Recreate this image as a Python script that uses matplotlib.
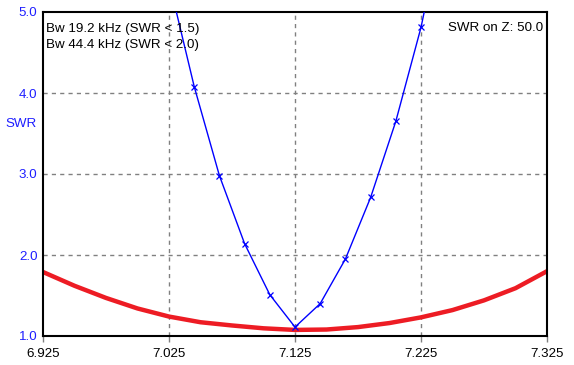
import matplotlib
matplotlib.use("Agg")
import matplotlib.pyplot as plt

plt.rcParams['font.family'] = ['Liberation Sans', 'DejaVu Sans']

# Measured SWR (blue, with markers)
freq_meas = [7.025, 7.045, 7.065, 7.085, 7.105, 7.125, 7.145, 7.165, 7.185, 7.205, 7.225, 7.245]
swr_meas = [5.38, 4.08, 2.98, 2.14, 1.51, 1.11, 1.40, 1.95, 2.71, 3.65, 4.81, 6.30]
marker_freq = [7.045, 7.065, 7.085, 7.105, 7.125, 7.145, 7.165, 7.185, 7.205, 7.225]
marker_swr = [4.08, 2.98, 2.14, 1.51, 1.11, 1.40, 1.95, 2.71, 3.65, 4.81]

# Reference SWR curve (red)
freq_ref = [6.925, 6.950, 6.975, 7.000, 7.025, 7.050, 7.075, 7.100, 7.125,
            7.150, 7.175, 7.200, 7.225, 7.250, 7.275, 7.300, 7.325]
swr_ref = [1.79, 1.62, 1.47, 1.34, 1.24, 1.17, 1.13, 1.095, 1.075,
           1.08, 1.11, 1.16, 1.23, 1.32, 1.44, 1.59, 1.80]

x_ticks = [6.925, 7.025, 7.125, 7.225, 7.325]
x_ticklabels = ["6.925", "7.025", "7.125", "7.225", "7.325"]
y_ticks = [1.0, 2.0, 3.0, 4.0, 5.0]
y_ticklabels = ["1.0", "2.0", "3.0", "4.0", "5.0"]

bw_lines = ["Bw 19.2 kHz (SWR < 1.5)", "Bw 44.4 kHz (SWR < 2.0)"]
z_text = "SWR on Z: 50.0"

W, H = 574, 365
FS = 9.6
fig = plt.figure(figsize=(W / 100, H / 100), dpi=100)
ax = fig.add_axes([43 / W, (H - 336) / H, 504 / W, 324 / H])

ax.set_xlim(6.925, 7.325)
ax.set_ylim(1.0, 5.0)

# grid
for xv in x_ticks[1:-1]:
    ax.axvline(xv, color='#808080', lw=1, ls=(0, (3, 3)), zorder=1)
for yv in y_ticks[1:-1]:
    ax.axhline(yv, color='#808080', lw=1, ls=(0, (3, 3)), zorder=1)

ax.plot(freq_ref, swr_ref, color='#ED1C24', lw=3.2, zorder=2, solid_capstyle='butt',
        solid_joinstyle='round')
ax.plot(freq_meas, swr_meas, color='#0000FF', lw=1.0, zorder=3)
ax.plot(marker_freq, marker_swr, ls='none', marker='x', ms=5, mew=0.9, color='#0000FF', zorder=3)

ax.set_xticks(x_ticks)
ax.set_xticklabels(x_ticklabels, fontsize=FS, color='black')
ax.set_yticks(y_ticks)
ax.set_yticklabels(y_ticklabels, fontsize=FS, color='#1E1EFF')
ax.tick_params(axis='x', length=4, width=1, color='#808080', direction='out', pad=4.5)
ax.tick_params(axis='y', length=0, pad=4)

for s in ax.spines.values():
    s.set_linewidth(1.5)
    s.set_color('black')

fig.text(5 / W, 1 - 124 / H, "SWR", color='#1E1EFF', fontsize=FS, ha='left', va='center')
ax.text(0.006, 1 - (29 - 12) / 324, bw_lines[0], transform=ax.transAxes,
        fontsize=FS, ha='left', va='center', color='black')
ax.text(0.006, 1 - (45 - 12) / 324, bw_lines[1], transform=ax.transAxes,
        fontsize=FS, ha='left', va='center', color='black')
ax.text(0.993, 1 - (28 - 12) / 324, z_text, transform=ax.transAxes,
        fontsize=FS, ha='right', va='center', color='black')

fig.savefig("out.png", dpi=100)
